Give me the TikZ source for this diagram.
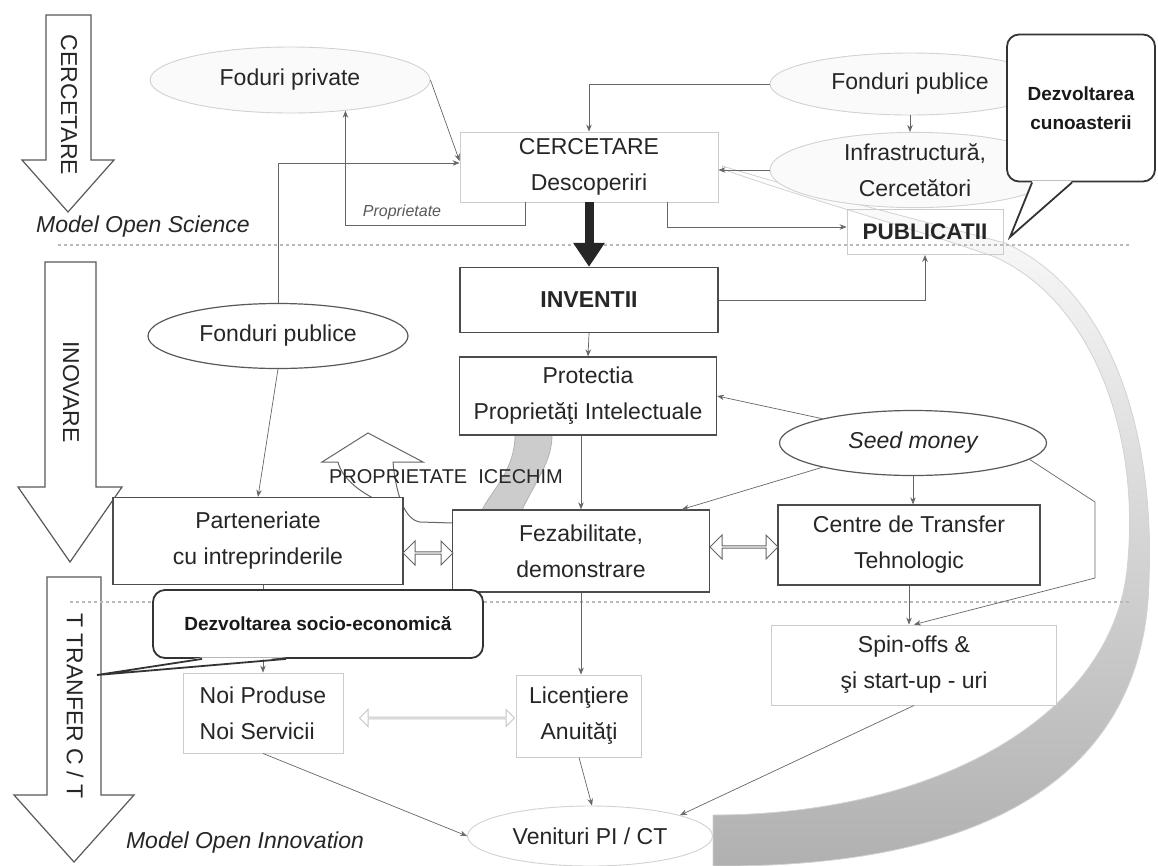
\documentclass[tikz,border=0pt]{standalone}
\usepackage{fontspec}
\setmainfont{Liberation Sans}
\usetikzlibrary{arrows.meta,shapes.geometric,shapes.arrows,calc}
\pgfdeclarelayer{bg}
\pgfsetlayers{bg,main}

\begin{document}
\begin{tikzpicture}[x=1pt,y=-1pt,
  txt/.style={text=black!85, font=\fontsize{23}{36}\selectfont, align=center},
  lightbox/.style={txt, draw=gray!40, line width=0.9pt, fill=white, inner sep=0pt},
  darkbox/.style={txt, draw=black!70, line width=1.3pt, fill=white, inner sep=0pt},
  lightell/.style={txt, ellipse, draw=gray!35, line width=0.9pt, fill=gray!4, inner sep=0pt},
  darkell/.style={txt, ellipse, draw=black!65, line width=1.2pt, fill=white, inner sep=0pt},
  conn/.style={draw=black!60, line width=0.7pt, -{Stealth[length=7pt,width=5.5pt]}},
  bigflow/.style={draw=black!85, line width=9pt, -{Triangle[length=24pt,width=30pt]}},
  sep/.style={draw=gray!55, line width=1.3pt, dash pattern=on 3pt off 3pt},
  bigarrow/.style={draw=black!65, line width=1.2pt, fill=white, line join=miter},
  callbox/.style={draw=black!80, line width=1.8pt, fill=white, rounded corners=12pt,
    font=\bfseries\fontsize{19}{29}\selectfont, text=black!90, align=center, inner sep=0pt},
  calltail/.style={draw=black!80, line width=1.8pt, line join=miter},
  hollow/.style={double arrow, draw=black!60, line width=1pt, fill=white, inner sep=0pt,
    minimum width=24pt, double arrow head extend=5pt},
]
\useasboundingbox (0,0) rectangle (1158,865);

% stage arrows on the left
\draw[bigarrow] (46,15) -- (91,15) -- (91,160) -- (114,160) -- (68,212) -- (22,160) -- (46,160) -- cycle;
\node[txt, rotate=-90] (lcerc) at (69,105) {CERCETARE};
\draw[bigarrow] (45,262) -- (96,262) -- (96,487) -- (122,487) -- (70,562) -- (18,487) -- (45,487) -- cycle;
\node[txt, rotate=-90] (linov) at (71,392) {INOVARE};
\draw[bigarrow] (47,577) -- (101,577) -- (101,795) -- (134,795) -- (74,862) -- (14,795) -- (47,795) -- cycle;
\node[txt, rotate=-90] (ltt) at (75,706) {T TRANFER C / T};

% section separators
\draw[sep] (58,245) -- (1130,245);
\draw[sep] (70,602) -- (1130,602);

\node[txt, font=\itshape\fontsize{23}{28}\selectfont] (mos) at (143,227) {Model Open Science};
\node[txt, font=\itshape\fontsize{23}{28}\selectfont] (moi) at (245,843) {Model Open Innovation};

% research level
\node[lightell, minimum width=280pt, minimum height=66pt] (fpriv) at (290,80) {Foduri private};
\node[lightell, minimum width=280pt, minimum height=62pt] (fpubt) at (910,84) {Fonduri publice};
\node[lightell, minimum width=290pt, minimum height=68pt] (infra) at (915,170) {Infrastructură,\\Cercetători};
\node[lightbox, minimum width=258pt, minimum height=70pt] (cerc) at (589,167) {CERCETARE\\Descoperiri};
\node[lightbox, fill=none, minimum width=156pt, minimum height=45pt,
      font=\bfseries\fontsize{22.5}{26}\selectfont] (pub) at (925,232) {PUBLICATII};
\node[text=gray!70!black, font=\itshape\fontsize{16}{20}\selectfont] (lprop) at (402,212) {Proprietate};

% innovation level
\node[darkbox, minimum width=258pt, minimum height=65pt,
      font=\bfseries\fontsize{23}{26}\selectfont] (inv) at (589,300) {INVENTII};
\node[darkbox, minimum width=257pt, minimum height=78pt] (prot) at (588,396) {Protectia\\Proprietăţi Intelectuale};
\node[darkell, minimum width=260pt, minimum height=65pt] (fpubm) at (278,336) {Fonduri publice};
\node[darkell, minimum width=267pt, minimum height=65pt,
      font=\itshape\fontsize{23}{36}\selectfont] (seed) at (913,443) {Seed money};
\node[darkbox, minimum width=290pt, minimum height=87pt] (part) at (258,541) {Parteneriate\\cu intreprinderile};
\node[darkbox, minimum width=257pt, minimum height=82pt] (fez) at (581,551) {Fezabilitate,\\demonstrare};
\node[darkbox, minimum width=262pt, minimum height=80pt] (ctt) at (909,545) {Centre de Transfer\\Tehnologic};
\node[txt, font=\fontsize{20}{24}\selectfont] (icechim) at (446,477) {PROPRIETATE\ \ ICECHIM};

% transfer level
\node[lightbox, minimum width=160pt, minimum height=80pt, align=left] (noi) at (263,713) {Noi Produse\\Noi Servicii};
\node[lightbox, minimum width=125pt, minimum height=82pt] (lic) at (579,716) {Licenţiere\\Anuităţi};
\node[lightbox, minimum width=285pt, minimum height=80pt] (spin) at (914,665) {Spin-offs \&\\şi start-up - uri};
\node[lightell, fill=white, minimum width=245pt, minimum height=60pt] (ven) at (590,836) {Venituri PI / CT};

% two-way links
\node[hollow, minimum height=50pt] (da1) at (428,553) {};
\node[hollow, minimum height=68pt] (da2) at (744,547) {};
\node[hollow, draw=gray!45, minimum height=155pt, minimum width=17pt, double arrow head extend=4pt] (da3) at (437,718) {};

\begin{pgfonlayer}{bg}
  \fill[white] (0,0) rectangle (1158,865);
  % feedback band from revenues back to research
  \shadedraw[top color=white, middle color=white, bottom color=gray!62, draw=gray!35, line width=0.8pt]
    ([xshift=4pt,yshift=1pt]cerc.east) .. controls (800,190) and (900,215) .. (1005,243)
    .. controls (1110,290) and (1155,430) .. (1149,580)
    .. controls (1145,780) and (980,868) .. (713,866)
    -- (713,815)
    .. controls (930,815) and (1110,720) .. (1127,570)
    .. controls (1142,430) and (1090,300) .. (995,257)
    .. controls (900,224) and (800,197) .. ([xshift=4pt,yshift=-2pt]cerc.east) -- cycle;
  % IP protection feeding the feasibility stage
  \filldraw[fill=gray!40, draw=gray!60, line width=0.8pt]
    (515,435) .. controls (515,470) and (492,490) .. (482,510) -- (522,510)
    .. controls (535,482) and (552,462) .. (552,435) -- cycle;
  % ICECHIM property arrow
  \draw[draw=black!60, line width=1pt, line join=miter]
    (373,498) .. controls (358,490) and (342,478) .. (338,462) -- (322,462) -- (368,433)
    -- (423,462) -- (393,462) .. controls (396,495) and (405,520) .. (420,522) -- (453,523);
\end{pgfonlayer}

% connectors
\draw[conn] (fpriv.east) -- ([yshift=6pt]cerc.west);
\draw[conn] (fpubm.north) |- ([yshift=4pt]cerc.west);
\draw[conn] ([xshift=-64pt]cerc.south) -- ++(0,23) -| (fpriv.331);
\draw[conn] (fpubt.west) -| (cerc.north);
\draw[conn] (fpubt.south) -- (fpubt.south |- infra.north);
\draw[conn] (infra.west) -- (cerc.east |- infra.west);
\draw[conn] ([xshift=78pt]cerc.south) |- ([yshift=5pt]pub.west);
\draw[conn] (inv.east) -| (pub.south);
\draw[bigflow] (cerc.south) -- (inv.north);
\draw[conn] (inv.south) -- (prot.north);
\draw[conn] (fez.north |- prot.south) -- (fez.north);
\draw[conn] (seed.165) -- (prot.east);
\draw[conn] (seed.195) -- ([xshift=101pt]fez.north);
\draw[conn] (seed.south) -- (seed.south |- ctt.north);
\coordinate (sa) at (1095,502);
\coordinate (sb) at (1095,578);
\draw[conn] (seed.-8) -- (sa) -- (sb) -- (spin.north);
\draw[conn] (ctt.south) -- (ctt.south |- spin.north);
\draw[conn] (fpubm.south) -- (part.north);
\draw[conn] (fez.south) -- (fez.south |- lic.north);
\draw[conn] (noi.north |- part.south) -- (noi.north);
\draw[conn] (noi.south) -- (ven.west);
\draw[conn] (lic.south) -- ([xshift=2pt]ven.north);
\draw[conn] (spin.south) -- (ven.13);

% callouts
\node[callbox, minimum width=148pt, minimum height=147pt] (cun) at (1081,108) {Dezvoltarea\\cunoasterii};
\coordinate (cuntip) at (1010,237);
\fill[white] ([xshift=26pt,yshift=1.5pt]cun.south west) -- (cuntip) -- ([xshift=66pt,yshift=1.5pt]cun.south west) -- cycle;
\draw[calltail] ([xshift=26pt]cun.south west) -- (cuntip) -- ([xshift=66pt]cun.south west);

\node[callbox, minimum width=330pt, minimum height=68pt] (soc) at (318,624) {Dezvoltarea socio-economică};
\coordinate (soctip) at (97,675);
\fill[white] ([xshift=50pt,yshift=1.5pt]soc.south west) -- (soctip) -- ([xshift=134pt,yshift=1.5pt]soc.south west) -- cycle;
\draw[calltail] ([xshift=50pt]soc.south west) -- (soctip) -- ([xshift=134pt]soc.south west);
\end{tikzpicture}
\end{document}
